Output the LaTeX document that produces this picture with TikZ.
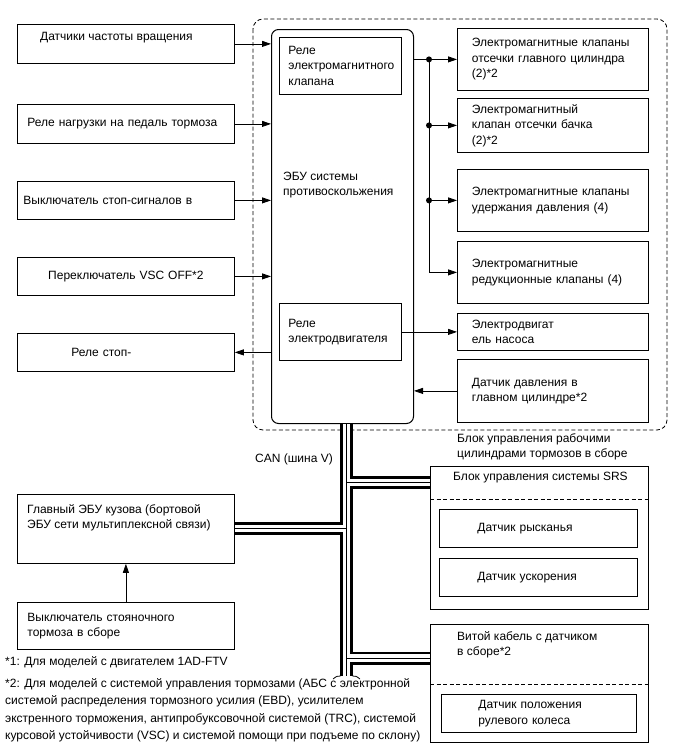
\documentclass[tikz,border=0pt]{standalone}
\usepackage{fontspec}
\setmainfont{Liberation Sans}
\usetikzlibrary{arrows.meta}

\begin{document}
\begin{tikzpicture}[x=1pt, y=-1pt, font=\fontsize{12}{15.5}\selectfont, >={Triangle[length=9pt,width=6pt]}]
    \tikzstyle{box}=[draw, line width=0.8pt, anchor=north west, inner ysep=0pt, align=left]
    \tikzstyle{rbox}=[box, text width=162pt, inner xsep=14.5pt]
    \tikzstyle{txt}=[anchor=base west, inner sep=0pt, align=left]
    \tikzstyle{link}=[line width=0.8pt]
    \tikzstyle{sep}=[line width=0.8pt, dash pattern=on 4pt off 2.5pt]
    \tikzstyle{dot}=[circle, fill, inner sep=0pt, minimum size=6pt]

    \useasboundingbox (0,0) rectangle (688,755);

    % Actuator assembly (dashed frame)
    \draw[sep, rounded corners=10pt] (253,19) rectangle (667,430);
    \node[txt] (asm) at (457,457.5) {Блок управления рабочими\\цилиндрами тормозов в сборе};

    % ECU with its relays
    \node[draw, line width=1pt, rounded corners=7pt, anchor=north west, minimum width=142pt, minimum height=394pt, inner sep=0pt] (ecu) at (271,29) {};
    \node[txt] (ecut) at (283,195.5) {ЭБУ системы\\противоскольжения};
    \node[box, text width=104pt, inner xsep=9pt, minimum height=57pt] (relv) at (279,37) {Реле\\электромагнитного\\клапана};
    \node[box, text width=104pt, inner xsep=9pt, minimum height=57pt] (relm) at (279,303) {Реле\\электродвигателя};

    % Inputs on the left
    \node[box, minimum width=217pt, minimum height=39pt] (spd) at (17,24) {};
    \node[txt] (spdt) at (40,40) {Датчики частоты вращения};
    \node[box, text width=197pt, inner xsep=10pt, minimum height=39pt] (ped) at (17,104) {Реле нагрузки на педаль тормоза};
    \node[box, text width=205pt, inner xsep=6pt, minimum height=38pt] (stp) at (17,181) {Выключатель стоп-сигналов в};
    \node[box, text width=197pt, inner xsep=10pt, minimum height=38pt, align=center] (vsc) at (17,257) {Переключатель VSC OFF*2};
    \node[box, text width=109pt, inner xsep=54pt, minimum height=38pt] (rst) at (17,333) {Реле стоп-};

    \draw[link,->] (spd.east) -- (spd.east -| ecu.west);
    \draw[link,->] (ped.east) -- (ped.east -| ecu.west);
    \draw[link,->] (stp.east) -- (stp.east -| ecu.west);
    \draw[link,->] (vsc.east) -- (vsc.east -| ecu.west);
    \draw[link,->] (rst.east -| ecu.west) -- (rst.east);

    % Outputs on the right
    \node[rbox, minimum height=62pt] (mcv) at (457,28) {Электромагнитные клапаны\\отсечки главного цилиндра\\(2)*2};
    \node[rbox, minimum height=54pt] (rsv) at (457,98) {Электромагнитный\\клапан отсечки бачка\\(2)*2};
    \node[rbox, minimum height=62pt] (hld) at (457,169) {Электромагнитные клапаны\\удержания давления (4)};
    \node[rbox, minimum height=62pt] (red) at (457,241) {Электромагнитные\\редукционные клапаны (4)};
    \node[rbox, minimum height=37pt] (pmp) at (457,313) {Электродвигат\\ель насоса};
    \node[rbox, minimum height=63pt] (mps) at (457,359) {Датчик давления в\\главном цилиндре*2};

    \coordinate (bx) at (429,0);
    \node[dot] (d1) at (mcv.west -| bx) {};
    \node[dot] (d2) at (rsv.west -| bx) {};
    \node[dot] (d3) at (hld.west -| bx) {};

    \draw[link] (ecu.east |- d1) -- (d1);
    \draw[link,->] (d1) -- (mcv.west);
    \draw[link,->] (d2) -- (rsv.west);
    \draw[link,->] (d3) -- (hld.west);
    \draw[link,->] (d1.center) -- (d1 |- red.west) -- (red.west);
    \draw[link,->] (relm.east) -- (relm.east -| pmp.west);
    \draw[link,->] (mps.west) -- (mps.west -| ecu.east);

    % Body ECU and parking brake switch
    \node[box, minimum width=217pt, minimum height=69pt] (body) at (17,494) {};
    \node[txt] (bodyt) at (27,528.5) {Главный ЭБУ кузова (бортовой\\ЭБУ сети мультиплексной связи)};
    \node[box, text width=197pt, inner xsep=10pt, minimum height=47pt] (pkb) at (17,602) {Выключатель стояночного\\тормоза в сборе};
    \draw[link,->] (pkb.north) -- (body.south);

    % Airbag sensor assembly
    \node[box, minimum width=218pt, minimum height=143pt] (srs) at (430,466) {};
    \node[txt] (srst) at (453,480) {Блок управления системы SRS};
    \coordinate (srssep) at (0,499);
    \draw[sep] (srssep -| srs.west) -- (srssep -| srs.east);
    \node[box, text width=122pt, inner xsep=38pt, minimum height=38pt] (yaw) at (439,509) {Датчик рысканья};
    \node[box, text width=122pt, inner xsep=38pt, minimum height=38pt] (acc) at (439,558) {Датчик ускорения};

    % Spiral cable with sensor
    \node[box, minimum width=218pt, minimum height=118pt] (str) at (430,624) {};
    \node[txt] (strt) at (457,655.5) {Витой кабель с датчиком\\в сборе*2};
    \coordinate (strsep) at (0,684);
    \draw[sep] (strsep -| str.west) -- (strsep -| str.east);
    \node[box, text width=121pt, inner xsep=37pt, minimum height=38pt] (swa) at (441,694) {Датчик положения\\рулевого колеса};

    % CAN bus
    \node[txt] (canl) at (255,462) {CAN (шина V)};
    \coordinate (canx) at (346.5,0);
    \coordinate (canend) at (346.5,676);
    \coordinate (jsrs) at (346.5,482.5);
    \coordinate (jbody) at (346.5,528.5);
    \coordinate (jstr) at (346.5,658);
    \foreach \w/\c in {13/black, 7.5/white, 0.7/black} {
        \draw[line width=\w pt, \c] (ecu.south -| canx) -- (canend);
        \draw[line width=\w pt, \c] (jsrs) -- (jsrs -| srs.west);
        \draw[line width=\w pt, \c] (jbody) -- (jbody -| body.east);
        \draw[line width=\w pt, \c] (jstr) -- (jstr -| str.west);
    }
    \draw[line width=0.8pt] (333,679) .. controls (337,676) .. (340.5,676);
    \draw[line width=0.8pt] (352.5,676) .. controls (356,676) .. (360,679);

    % Footnotes
    \node[txt] (fn1) at (5,665) {*1: Для моделей с двигателем 1AD-FTV};
    \node[txt, font=\fontsize{12}{17.5}\selectfont] (fn2) at (5,739.5) {*2: Для моделей с системой управления тормозами (АБС с электронной\\системой распределения тормозного усилия (EBD), усилителем\\экстренного торможения, антипробуксовочной системой (TRC), системой\\курсовой устойчивости (VSC) и системой помощи при подъеме по склону)};
\end{tikzpicture}
\end{document}
